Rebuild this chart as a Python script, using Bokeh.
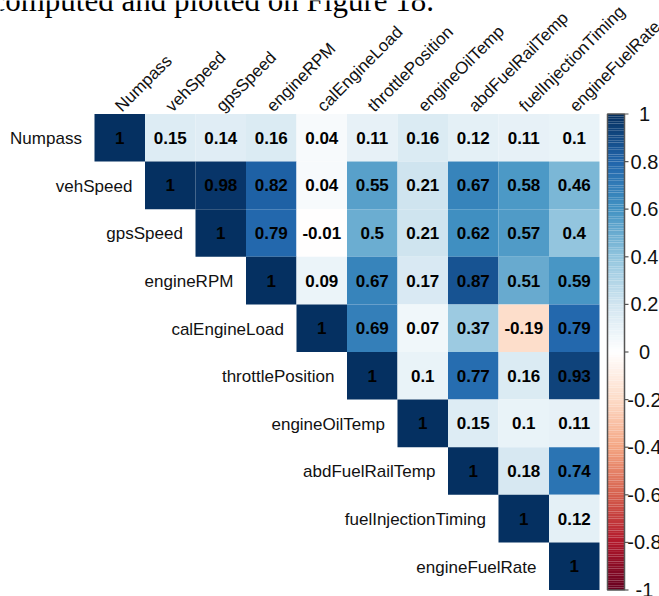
import numpy as np
from bokeh.plotting import figure
from bokeh.models import ColumnDataSource, Range1d
from bokeh.core.properties import value
from bokeh.embed import file_html
from bokeh.resources import INLINE

# ---------------- data ----------------
variables = ["Numpass", "vehSpeed", "gpsSpeed", "engineRPM", "calEngineLoad",
             "throttlePosition", "engineOilTemp", "abdFuelRailTemp",
             "fuelInjectionTiming", "engineFuelRate"]

# upper triangle of the correlation matrix, row by row (starting at the diagonal)
row_numpass = [1, 0.15, 0.14, 0.16, 0.04, 0.11, 0.16, 0.12, 0.11, 0.1]
row_vehspeed = [1, 0.98, 0.82, 0.04, 0.55, 0.21, 0.67, 0.58, 0.46]
row_gpsspeed = [1, 0.79, -0.01, 0.5, 0.21, 0.62, 0.57, 0.4]
row_enginerpm = [1, 0.09, 0.67, 0.17, 0.87, 0.51, 0.59]
row_calengineload = [1, 0.69, 0.07, 0.37, -0.19, 0.79]
row_throttleposition = [1, 0.1, 0.77, 0.16, 0.93]
row_engineoiltemp = [1, 0.15, 0.1, 0.11]
row_abdfuelrailtemp = [1, 0.18, 0.74]
row_fuelinjectiontiming = [1, 0.12]
row_enginefuelrate = [1]

upper_rows = [row_numpass, row_vehspeed, row_gpsspeed, row_enginerpm,
              row_calengineload, row_throttleposition, row_engineoiltemp,
              row_abdfuelrailtemp, row_fuelinjectiontiming, row_enginefuelrate]

legend_ticks = [1, 0.8, 0.6, 0.4, 0.2, 0, -0.2, -0.4, -0.6, -0.8, -1]
legend_labels = ["1", "0.8", "0.6", "0.4", "0.2", "0", "-0.2", "-0.4", "-0.6", "-0.8", "-1"]

caption = "computed and plotted on Figure 18."

# ---------------- palette (corrplot RdBu, 200 colours) ----------------
anchors = ["#67001F", "#B2182B", "#D6604D", "#F4A582", "#FDDBC7", "#FFFFFF",
           "#D1E5F0", "#92C5DE", "#4393C3", "#2166AC", "#053061"]


def ramp(cols, n):
    rgb = np.array([[int(c[i:i + 2], 16) for i in (1, 3, 5)] for c in cols], float)
    pos = np.linspace(0, 1, len(cols))
    t = np.linspace(0, 1, n)
    out = []
    for tt in t:
        r = np.interp(tt, pos, rgb[:, 0])
        g = np.interp(tt, pos, rgb[:, 1])
        b = np.interp(tt, pos, rgb[:, 2])
        out.append("#%02x%02x%02x" % (int(round(r)), int(round(g)), int(round(b))))
    return out


N = 200
palette = ramp(anchors, N)


def color_of(v):
    return palette[int(round((v + 1) / 2 * (N - 1)))]


# ---------------- layout (pixel geometry) ----------------
W, H = 659, 596
X0, CW = 94.0, 50.5     # left edge of grid, cell width
Y0, CH = 113.5, 47.6    # top edge of grid, cell height

p = figure(width=W, height=H, output_backend="svg", toolbar_location=None,
           x_range=Range1d(-X0 / CW, (W - X0) / CW),
           y_range=Range1d((H - Y0) / CH, -Y0 / CH),
           min_border=0, x_axis_location=None, y_axis_location=None)
p.outline_line_color = None
p.grid.visible = False
p.background_fill_color = "white"
p.border_fill_color = "white"

# ---------------- cells ----------------
cx, cy, cols, labels = [], [], [], []
for i, row in enumerate(upper_rows):
    for k, v in enumerate(row):
        j = i + k
        cx.append(j)
        cy.append(i)
        cols.append(color_of(v))
        labels.append(f"{v:g}")
cx = np.array(cx, float)
cy = np.array(cy, float)
cells = ColumnDataSource(dict(l=cx, r=cx + 1, t=cy, b=cy + 1,
                              xc=cx + 0.5, yc=cy + 0.5, color=cols, lab=labels))
p.quad(left="l", right="r", top="t", bottom="b", fill_color="color",
       line_color=None, source=cells)
p.text(x="xc", y="yc", text="lab", source=cells, text_font=value("Liberation Sans"),
       text_font_size="17px", text_font_style="bold", text_color="black",
       text_align="center", text_baseline="middle")

# ---------------- row labels ----------------
idx = np.arange(len(variables), dtype=float)
rowlab = ColumnDataSource(dict(x=idx - 0.25, y=idx + 0.52, t=variables))
p.text(x="x", y="y", text="t", source=rowlab, text_font=value("Liberation Sans"),
       text_font_size="17px", text_color="#111111", text_align="right",
       text_baseline="middle")

# ---------------- column labels (rotated 45 degrees) ----------------
collab = ColumnDataSource(dict(x=idx + 0.47, y=np.full(len(idx), -0.11), t=variables))
p.text(x="x", y="y", text="t", source=collab, angle=np.pi / 4,
       text_font=value("Liberation Sans"), text_font_size="17px",
       text_color="#111111", text_align="left", text_baseline="alphabetic")

# ---------------- colour legend ----------------
nrows = len(variables)
cb_l = (607 - X0) / CW
cb_r = (624 - X0) / CW
vals = np.linspace(-1, 1, N + 1)
ytop = (1 - vals[1:]) / 2 * nrows
ybot = (1 - vals[:-1]) / 2 * nrows
p.quad(left=cb_l, right=cb_r, top=ytop, bottom=ybot, fill_color=palette,
       line_color=None)
p.quad(left=[cb_l], right=[cb_r], top=[0], bottom=[nrows], fill_color=None,
       line_color="#555555", line_width=1.5)
tick_y = (1 - np.array(legend_ticks, float)) / 2 * nrows
p.segment(x0=np.full(len(tick_y), cb_r), x1=np.full(len(tick_y), (628 - X0) / CW),
          y0=tick_y, y1=tick_y, line_color="#555555", line_width=1.2)
p.text(x=np.full(len(tick_y), (644 - X0) / CW), y=tick_y, text=legend_labels,
       text_font=value("Liberation Sans"), text_font_size="20px",
       text_color="#111111", text_align="center", text_baseline="middle")

# ---------------- caption fragment at the top ----------------
p.text(x=[(-9 - X0) / CW], y=[(0 - Y0) / CH], text=[caption],
       text_font=value("Liberation Serif"), text_font_size="31px",
       text_color="black", text_align="left", text_baseline="alphabetic")

open("out.html", "w").write(file_html(p, INLINE))
